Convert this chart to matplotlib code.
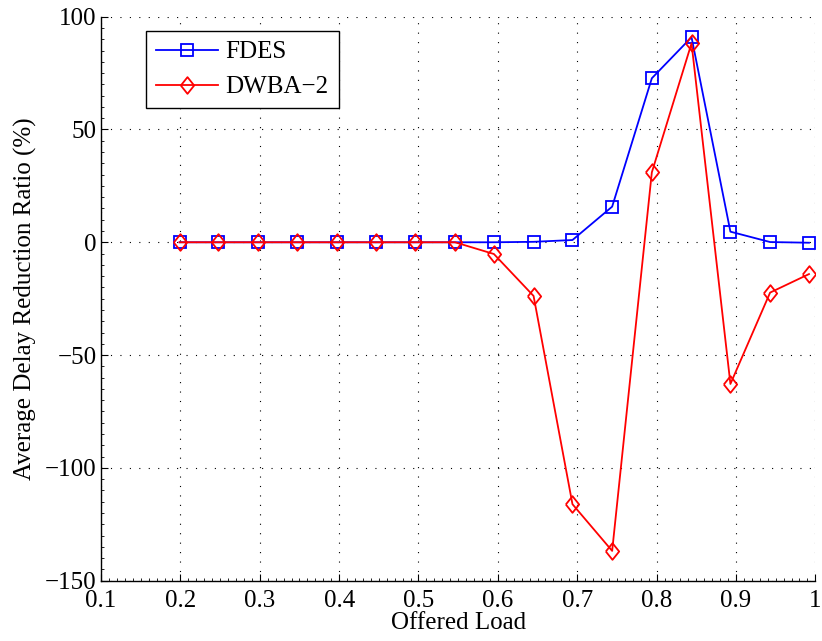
"""Average delay reduction ratio vs offered load"""

import matplotlib
matplotlib.use("Agg")
import matplotlib.pyplot as plt
from matplotlib.ticker import MultipleLocator

# values
load = [0.199, 0.248, 0.298, 0.347, 0.397, 0.447, 0.496, 0.546, 0.595,
        0.645, 0.694, 0.744, 0.794, 0.844, 0.893, 0.943, 0.992]
fdes = [0, 0, 0, 0, 0, 0, 0, 0, 0,
        0.2, 1.0, 15.8, 72.7, 90.9, 4.7, 0.1, -0.2]
dwba2 = [0, 0, 0, 0, 0, 0, 0, 0, -5.2,
         -23.8, -116.1, -136.8, 31.0, 88.2, -62.8, -22.3, -14.1]

plt.rcParams["font.family"] = ["Liberation Serif", "DejaVu Serif"]
plt.rcParams["font.size"] = 18

# MATLAB-style diamond, a little taller than wide
diamond = [(-0.4, 0), (0, 0.5), (0.4, 0), (0, -0.5), (-0.4, 0)]

fig = plt.figure(figsize=(8.22, 6.41), dpi=100)
ax = fig.add_axes([0.1229, 0.0941, 0.869, 0.8799])

ax.plot(load, fdes, color="#0000ff", lw=1.3, marker="s", ms=8,
        mfc="none", mew=1.3, label="FDES")
ax.plot(load, dwba2, color="#ff0000", lw=1.3, marker=diamond, ms=12,
        mfc="none", mew=1.3, label="DWBA\u22122")

ax.set_xlim(0.1, 1.0)
ax.set_ylim(-150, 100)
ax.xaxis.set_major_locator(MultipleLocator(0.1))
ax.xaxis.set_minor_locator(MultipleLocator(0.01))
ax.yaxis.set_major_locator(MultipleLocator(50))
ax.yaxis.set_minor_locator(MultipleLocator(5))
ax.set_xticklabels([f"{v:g}" for v in ax.get_xticks()])
ax.set_yticklabels([f"{v:g}".replace("-", "\u2212") for v in ax.get_yticks()])

ax.tick_params(which="major", direction="in", length=5, width=0.8)
ax.tick_params(axis="x", which="major", pad=7)
ax.tick_params(axis="y", which="major", pad=3)
ax.tick_params(which="minor", direction="in", length=2.5, width=0.6)
ax.spines["top"].set_visible(False)
ax.spines["right"].set_visible(False)
for s in ("left", "bottom"):
    ax.spines[s].set_linewidth(1.0)

ax.grid(True, which="major", color="k", lw=0.8, linestyle=(0, (1, 7.5)))
ax.set_axisbelow(True)

ax.set_xlabel("Offered Load", labelpad=0)
ax.set_ylabel("Average Delay Reduction Ratio (%)", labelpad=6)

leg = ax.legend(loc="upper left", bbox_to_anchor=(0.0625, 0.975),
                fancybox=False, framealpha=1, edgecolor="k",
                handlelength=2.5, borderpad=0.4, labelspacing=0.5,
                handletextpad=0.3, borderaxespad=0)
leg.get_frame().set_linewidth(1.0)

fig.savefig("out.png", dpi=100)
